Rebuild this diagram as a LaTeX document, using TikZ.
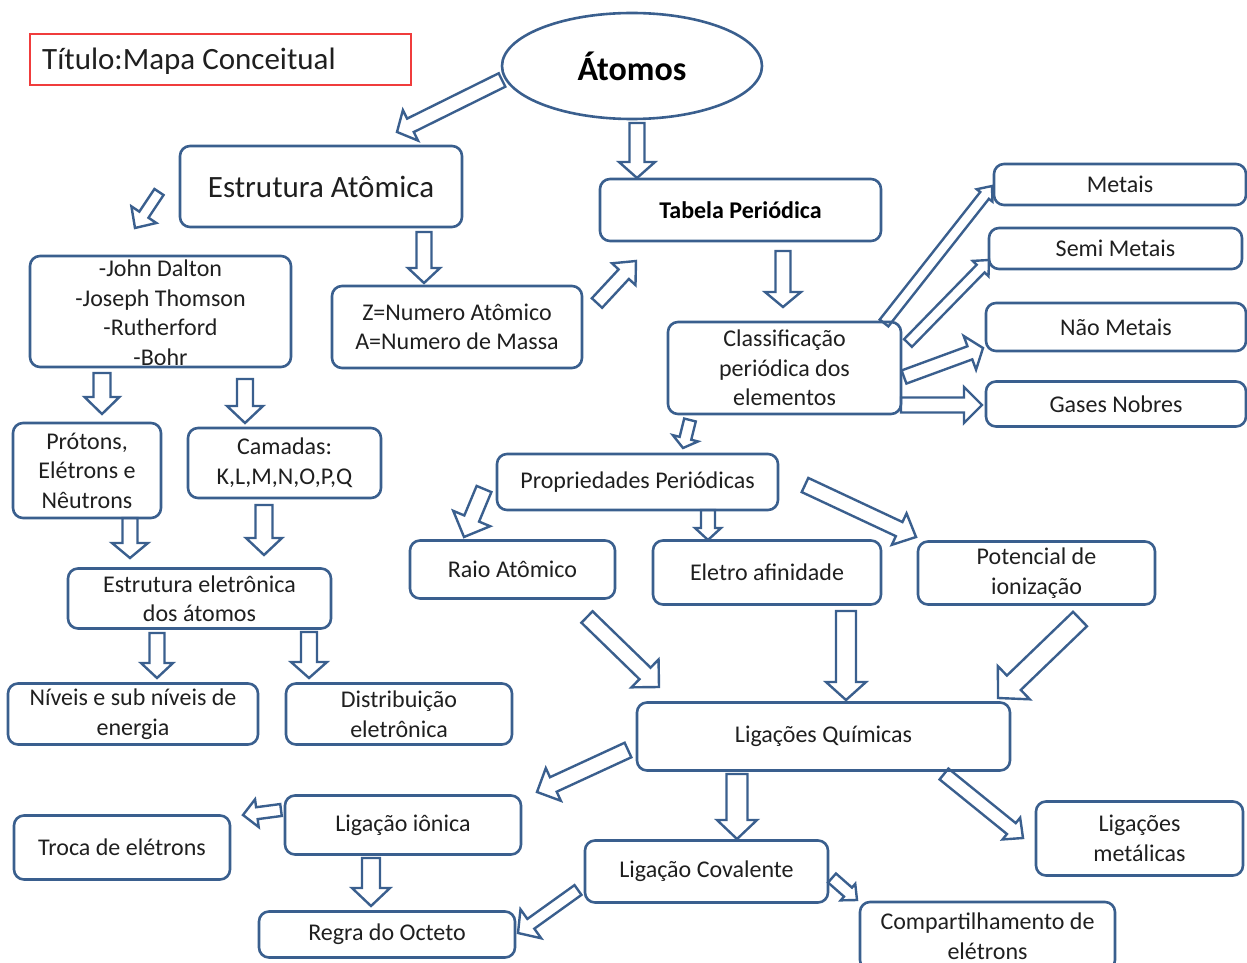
\documentclass[tikz,border=0pt]{standalone}
\usepackage{fontspec}
\setmainfont{Carlito}
\usetikzlibrary{calc,shapes.geometric}
\definecolor{bc}{HTML}{3A5F8E}
\definecolor{rc}{HTML}{F03C3C}
\newcommand{\fsn}{\fontsize{24}{29.5}\selectfont}
\newcommand{\barrow}[6]{%
  \coordinate (#6s) at (#1);
  \coordinate (#6e) at (#2);
  \coordinate (#6b) at ($(#6e)!#5pt!(#6s)$);
  \draw[blockarrow] ($(#6s)!#3pt!90:(#6e)$) -- ($(#6b)!#3pt!-90:(#6s)$) --
    ($(#6b)!#4pt!-90:(#6s)$) -- (#6e) -- ($(#6b)!#4pt!90:(#6s)$) --
    ($(#6b)!#3pt!90:(#6s)$) -- ($(#6s)!#3pt!-90:(#6e)$) -- cycle;
}
\tikzset{
  box/.style={draw=bc, line width=2.6pt, rounded corners=10pt, inner sep=0pt,
    align=center, font=\fsn, text=black!88},
  blockarrow/.style={draw=bc, line width=2.4pt, fill=white, line join=miter},
  plain/.style={inner sep=0pt, align=center, font=\fsn, text=black!88}
}
\begin{document}
\begin{tikzpicture}[x=1pt,y=-1pt]
\useasboundingbox (0,0) rectangle (1247,963);

% block arrows
\barrow{502,80}{397,132}{7.5}{17}{15}{a1}
\barrow{637,123}{637,178}{7.5}{18}{16}{a2}
\barrow{159,192}{135,228}{5.5}{15}{16}{a3}
\barrow{424,232}{424,283}{7.5}{16}{15}{a4}
\barrow{597,303}{636,261}{7}{16}{18}{a5}
\barrow{783,251}{783,307}{7.5}{18}{15}{a6}
\barrow{102,373}{102,414}{8.5}{17.5}{17}{a7}
\barrow{245,379}{245,423}{8}{18}{17}{a8}
\barrow{130,518}{130,558}{7.5}{18}{15}{a9}
\barrow{264,505}{264,555}{8.5}{18}{17}{a10}
\barrow{157,633}{157,678}{7.5}{16}{15}{a11}
\barrow{309,632}{309,678}{8}{18}{16}{a12}
\barrow{884,323}{992,186}{5.5}{10}{12}{a13}
\barrow{908,343}{989,260}{5.5}{11}{12}{a14}
\barrow{904,377}{983,348}{7}{18}{14}{a15}
\barrow{901,405}{982,405}{7.5}{18}{18}{a16}
\barrow{690,420}{683,448}{6}{13}{10}{a17}
\barrow{484,489}{464,537}{8}{20}{20}{a18}
\barrow{708,510}{708,540}{7}{13}{12}{a19}
\barrow{805,485}{916,537}{7.8}{17.4}{18.6}{a20}
\barrow{587,617}{659,687}{8}{19.4}{19.5}{a21}
\barrow{846,611}{846,700}{10}{20}{18}{a22}
\barrow{1080,619}{998,698}{10}{23}{22}{a23}
\barrow{628,750}{537,792}{8}{18}{18}{a24}
\barrow{281,810}{243,815}{6}{14}{14}{a25}
\barrow{737,774}{737,839}{10.5}{20}{19}{a26}
\barrow{944,774}{1023,838}{7}{14}{15}{a27}
\barrow{371,858}{371,906}{9}{19}{18}{a28}
\barrow{578,890}{518,933}{6}{17.8}{15.8}{a29}
\barrow{832,878}{857,900}{6}{11}{12}{a30}

% title
\node[draw=rc, line width=1.4pt, minimum width=381pt, minimum height=51pt,
  inner sep=0pt] (title) at (220.5,59.5) {};
\node[anchor=west, inner sep=0pt, font=\fontsize{31}{36}\selectfont, text=black!88]
  (titletxt) at (42,61) {Título:Mapa Conceitual};

% ellipse
\node[ellipse, draw=bc, line width=2.6pt, minimum width=260pt, minimum height=106pt,
  inner sep=0pt, font=\fontsize{34}{40}\selectfont\bfseries] (atomos) at (632,66) {Átomos};

\node[box, minimum width=282pt, minimum height=81pt, font=\fontsize{31}{36}\selectfont] (estA) at (321,186.5) {Estrutura Atômica};
\node[box, minimum width=281pt, minimum height=62pt, font=\fsn\bfseries, text=black] (tab) at (740.5,210) {Tabela Periódica};
\node[box, minimum width=261pt, minimum height=111pt] (dalton) at (160.5,311.5) {};
\node[plain] (daltontxt) at (160.5,312.5) {-John Dalton\\-Joseph Thomson\\-Rutherford\\-Bohr};
\node[box, minimum width=250pt, minimum height=82pt] (zbox) at (457,327) {Z=Numero Atômico\\A=Numero de Massa};
\node[box, minimum width=148pt, minimum height=95pt] (protons) at (87,470.5) {Prótons,\\Elétrons e\\Nêutrons};
\node[box, minimum width=193pt, minimum height=70pt] (camadas) at (284.5,463) {Camadas:\\K,L,M,N,O,P,Q};
\node[box, minimum width=263pt, minimum height=60pt] (estel) at (199.5,598.5) {Estrutura eletrônica\\dos átomos};
\node[box, minimum width=250pt, minimum height=61pt] (niveis) at (133,714) {Níveis e sub níveis de\\energia};
\node[box, minimum width=226pt, minimum height=61pt] (distrib) at (399,714) {Distribuição\\eletrônica};
\node[box, minimum width=233pt, minimum height=92pt] (classif) at (784.5,368) {Classificação\\periódica dos\\elementos};
\node[box, minimum width=252pt, minimum height=41pt] (metais) at (1120,184.5) {Metais};
\node[box, minimum width=253pt, minimum height=41pt] (semi) at (1115.5,248.5) {Semi Metais};
\node[box, minimum width=260pt, minimum height=48pt] (nao) at (1116,327) {Não Metais};
\node[box, minimum width=260pt, minimum height=45pt] (gases) at (1116,404) {Gases Nobres};
\node[box, minimum width=281pt, minimum height=56pt] (prop) at (637.5,482) {Propriedades Periódicas};
\node[box, minimum width=205pt, minimum height=58pt] (raio) at (512.5,569.5) {Raio Atômico};
\node[box, minimum width=228pt, minimum height=64pt] (eletro) at (767,572.5) {Eletro afinidade};
\node[box, minimum width=237pt, minimum height=63pt] (pot) at (1036.5,573) {Potencial de\\ionização};
\node[box, minimum width=373pt, minimum height=68pt] (ligq) at (823.5,736.5) {Ligações Químicas};
\node[box, minimum width=236pt, minimum height=59pt] (ionica) at (403,825) {Ligação iônica};
\node[box, minimum width=216pt, minimum height=64pt] (troca) at (122,847.5) {Troca de elétrons};
\node[box, minimum width=243pt, minimum height=62pt] (cov) at (706.5,871.5) {Ligação Covalente};
\node[box, minimum width=256pt, minimum height=46pt] (regra) at (387,934.5) {Regra do Octeto};
\node[box, minimum width=255pt, minimum height=68pt] (comp) at (987.5,936) {Compartilhamento de\\elétrons};
\node[box, minimum width=207pt, minimum height=74pt] (metal) at (1139.5,838.5) {Ligações\\metálicas};
\end{tikzpicture}
\end{document}
